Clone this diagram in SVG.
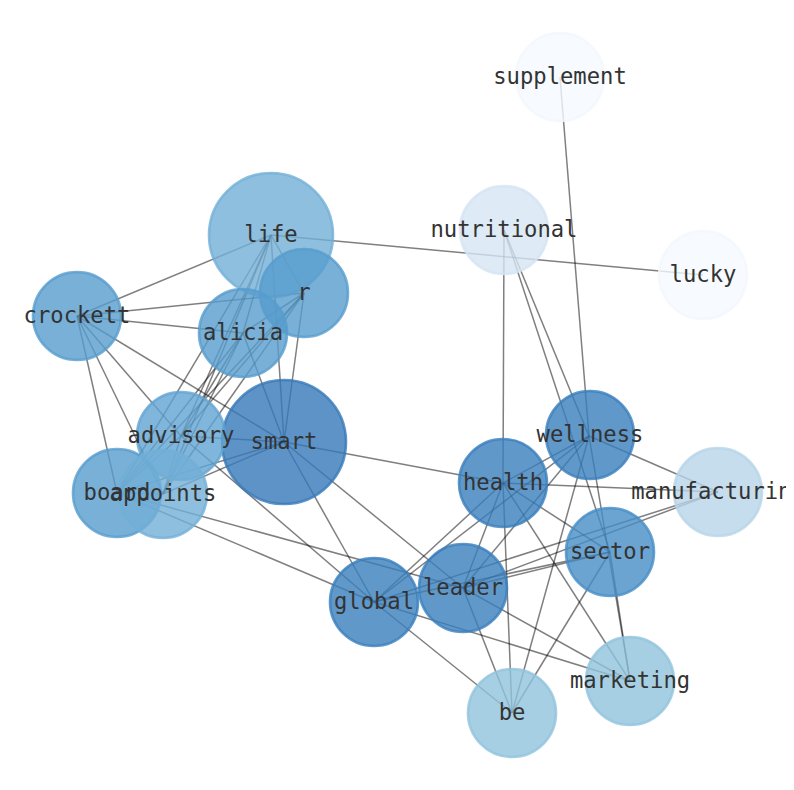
<svg xmlns="http://www.w3.org/2000/svg" width="794" height="790" viewBox="0 0 794 790">
<defs>
<style>
.e{stroke:#000;stroke-opacity:0.5;stroke-width:1.5;fill:none}
.n{stroke-width:2.6;fill-opacity:0.8;stroke-opacity:0.8}
.t{font-family:"DejaVu Sans Mono","Liberation Mono",monospace;font-size:22.2px;fill:#333;text-anchor:middle}
</style>
<clipPath id="clipR"><rect x="0" y="0" width="786" height="790"/></clipPath>
</defs>
<rect width="794" height="790" fill="#fff"/>
<g id="edges">
<line class="e" x1="243" y1="333" x2="304" y2="293"/>
<line class="e" x1="243" y1="333" x2="77" y2="316"/>
<line class="e" x1="243" y1="333" x2="163" y2="494"/>
<line class="e" x1="243" y1="333" x2="284" y2="442"/>
<line class="e" x1="243" y1="333" x2="271" y2="235"/>
<line class="e" x1="243" y1="333" x2="181" y2="436"/>
<line class="e" x1="243" y1="333" x2="117" y2="493"/>
<line class="e" x1="304" y1="293" x2="77" y2="316"/>
<line class="e" x1="304" y1="293" x2="163" y2="494"/>
<line class="e" x1="304" y1="293" x2="284" y2="442"/>
<line class="e" x1="304" y1="293" x2="271" y2="235"/>
<line class="e" x1="304" y1="293" x2="181" y2="436"/>
<line class="e" x1="304" y1="293" x2="117" y2="493"/>
<line class="e" x1="77" y1="316" x2="163" y2="494"/>
<line class="e" x1="77" y1="316" x2="284" y2="442"/>
<line class="e" x1="77" y1="316" x2="271" y2="235"/>
<line class="e" x1="77" y1="316" x2="181" y2="436"/>
<line class="e" x1="77" y1="316" x2="117" y2="493"/>
<line class="e" x1="163" y1="494" x2="284" y2="442"/>
<line class="e" x1="163" y1="494" x2="271" y2="235"/>
<line class="e" x1="163" y1="494" x2="181" y2="436"/>
<line class="e" x1="163" y1="494" x2="117" y2="493"/>
<line class="e" x1="284" y1="442" x2="271" y2="235"/>
<line class="e" x1="284" y1="442" x2="181" y2="436"/>
<line class="e" x1="284" y1="442" x2="117" y2="493"/>
<line class="e" x1="271" y1="235" x2="181" y2="436"/>
<line class="e" x1="271" y1="235" x2="117" y2="493"/>
<line class="e" x1="181" y1="436" x2="117" y2="493"/>
<line class="e" x1="271" y1="235" x2="703" y2="275"/>
<line class="e" x1="560" y1="77" x2="589" y2="436"/>
<line class="e" x1="504" y1="230" x2="503" y2="483"/>
<line class="e" x1="504" y1="230" x2="589" y2="436"/>
<line class="e" x1="504" y1="230" x2="610" y2="552"/>
<line class="e" x1="284" y1="442" x2="503" y2="483"/>
<line class="e" x1="284" y1="442" x2="374" y2="602"/>
<line class="e" x1="284" y1="442" x2="463" y2="588"/>
<line class="e" x1="181" y1="436" x2="374" y2="602"/>
<line class="e" x1="117" y1="493" x2="374" y2="602"/>
<line class="e" x1="117" y1="493" x2="463" y2="588"/>
<line class="e" x1="503" y1="483" x2="589" y2="436"/>
<line class="e" x1="503" y1="483" x2="718" y2="492"/>
<line class="e" x1="503" y1="483" x2="463" y2="588"/>
<line class="e" x1="503" y1="483" x2="374" y2="602"/>
<line class="e" x1="503" y1="483" x2="610" y2="552"/>
<line class="e" x1="503" y1="483" x2="630" y2="681"/>
<line class="e" x1="503" y1="483" x2="512" y2="713"/>
<line class="e" x1="589" y1="436" x2="718" y2="492"/>
<line class="e" x1="589" y1="436" x2="630" y2="681"/>
<line class="e" x1="589" y1="436" x2="512" y2="713"/>
<line class="e" x1="589" y1="436" x2="374" y2="602"/>
<line class="e" x1="589" y1="436" x2="463" y2="588"/>
<line class="e" x1="610" y1="552" x2="630" y2="681"/>
<line class="e" x1="610" y1="552" x2="512" y2="713"/>
<line class="e" x1="374" y1="602" x2="610" y2="552"/>
<line class="e" x1="463" y1="588" x2="610" y2="552"/>
<line class="e" x1="374" y1="602" x2="718" y2="492"/>
<line class="e" x1="463" y1="588" x2="718" y2="492"/>
<line class="e" x1="374" y1="602" x2="512" y2="713"/>
<line class="e" x1="463" y1="588" x2="512" y2="713"/>
<line class="e" x1="374" y1="602" x2="630" y2="681"/>
<line class="e" x1="463" y1="588" x2="630" y2="681"/>
</g>
<g id="nodes">
<g id="node-supplement"><circle class="n" cx="560" cy="77" r="44" fill="#f5f9fe" stroke="#f2f7fd"/></g>
<g id="node-nutritional"><circle class="n" cx="504" cy="230" r="44" fill="#d6e5f3" stroke="#d4e3f2"/></g>
<g id="node-lucky"><circle class="n" cx="703" cy="275" r="44" fill="#f5f9fe" stroke="#f2f7fd"/></g>
<g id="node-life"><circle class="n" cx="271" cy="235" r="62" fill="#72afd7" stroke="#72afd7"/></g>
<g id="node-r"><circle class="n" cx="304" cy="293" r="44" fill="#569ccd" stroke="#569ccd"/></g>
<g id="node-crockett"><circle class="n" cx="77" cy="316" r="44" fill="#569ccd" stroke="#569ccd"/></g>
<g id="node-alicia"><circle class="n" cx="243" cy="333" r="44" fill="#569ccd" stroke="#569ccd"/></g>
<g id="node-smart"><circle class="n" cx="284" cy="442" r="62" fill="#3578b8" stroke="#3578b8"/></g>
<g id="node-advisory"><circle class="n" cx="181" cy="436" r="44" fill="#60a4d2" stroke="#60a4d2"/></g>
<g id="node-board"><circle class="n" cx="117" cy="493" r="44" fill="#569ccd" stroke="#569ccd"/></g>
<g id="node-appoints"><circle class="n" cx="163" cy="494" r="44" fill="#72afd7" stroke="#72afd7"/></g>
<g id="node-health"><circle class="n" cx="503" cy="483" r="44" fill="#387ebd" stroke="#387ebd"/></g>
<g id="node-wellness"><circle class="n" cx="590" cy="435" r="44" fill="#387ebd" stroke="#387ebd"/></g>
<g id="node-manufacturing"><circle class="n" cx="718" cy="492" r="44" fill="#b6d4e7" stroke="#b6d4e7"/></g>
<g id="node-sector"><circle class="n" cx="610" cy="552" r="44" fill="#468dc5" stroke="#468dc5"/></g>
<g id="node-leader"><circle class="n" cx="463" cy="588" r="44" fill="#387ebd" stroke="#387ebd"/></g>
<g id="node-global"><circle class="n" cx="374" cy="602" r="44" fill="#387ebd" stroke="#387ebd"/></g>
<g id="node-be"><circle class="n" cx="512" cy="713" r="44" fill="#91c3dd" stroke="#91c3dd"/></g>
<g id="node-marketing"><circle class="n" cx="630" cy="681" r="44" fill="#91c3dd" stroke="#91c3dd"/></g>
</g>
<g id="labels">
<text class="t" id="label-supplement" x="560" y="83.5">supplement</text>
<text class="t" id="label-nutritional" x="504" y="236.5">nutritional</text>
<text class="t" id="label-lucky" x="703" y="281.5">lucky</text>
<text class="t" id="label-life" x="271" y="241.5">life</text>
<text class="t" id="label-r" x="304" y="299.5">r</text>
<text class="t" id="label-crockett" x="77" y="322.5">crockett</text>
<text class="t" id="label-alicia" x="243" y="339.5">alicia</text>
<text class="t" id="label-smart" x="284" y="448.5">smart</text>
<text class="t" id="label-advisory" x="181" y="442.5">advisory</text>
<text class="t" id="label-board" x="117" y="499.5">board</text>
<text class="t" id="label-appoints" x="163" y="500.5">appoints</text>
<text class="t" id="label-health" x="503" y="489.5">health</text>
<text class="t" id="label-wellness" x="590" y="441.5">wellness</text>
<text class="t" id="label-manufacturing" x="718" y="498.5" clip-path="url(#clipR)">manufacturing</text>
<text class="t" id="label-sector" x="610" y="558.5">sector</text>
<text class="t" id="label-leader" x="463" y="594.5">leader</text>
<text class="t" id="label-global" x="374" y="608.5">global</text>
<text class="t" id="label-be" x="512" y="719.5">be</text>
<text class="t" id="label-marketing" x="630" y="687.5">marketing</text>
</g>
</svg>
